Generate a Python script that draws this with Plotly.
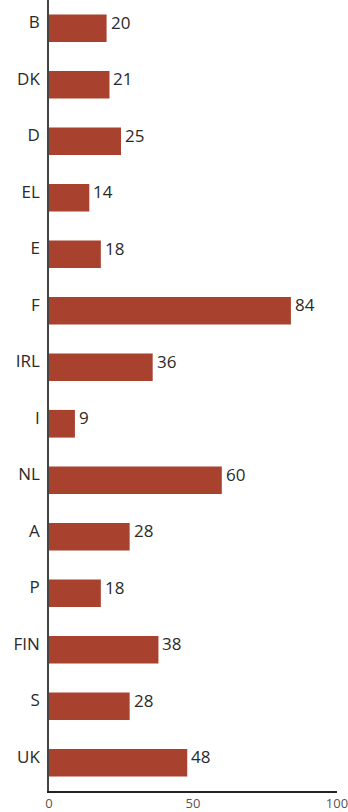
import plotly.graph_objects as go

categories = ["B", "DK", "D", "EL", "E", "F", "IRL", "I", "NL", "A", "P", "FIN", "S", "UK"]
values = [20, 21, 25, 14, 18, 84, 36, 9, 60, 28, 18, 38, 28, 48]
x_ticks = [0, 50, 100]

fig = go.Figure(go.Bar(
    y=categories,
    x=values,
    orientation="h",
    marker=dict(color="#A9412F", line=dict(width=0)),
    width=0.49,
))

for c, v in zip(categories, values):
    fig.add_annotation(
        x=v, y=c, text=str(v), showarrow=False,
        xanchor="left", yanchor="middle", xshift=2, yshift=6,
        font=dict(family="Open Sans", size=17, color="#2a2a2a", weight=500),
    )

fig.update_layout(
    width=348, height=812,
    margin=dict(l=49, r=10, t=0, b=18),
    paper_bgcolor="white", plot_bgcolor="white",
    showlegend=False,
    font=dict(family="Open Sans", color="#333"),
)
fig.update_xaxes(
    range=[0, 100], tickvals=x_ticks, showgrid=False, zeroline=False,
    showline=True, linecolor="#222", linewidth=1.5, ticks="",
    ticklabeloverflow="allow",
    tickfont=dict(size=13, color="#555"),
)
fig.update_yaxes(
    categoryorder="array", categoryarray=categories[::-1],
    showgrid=False, zeroline=False, showline=True, linecolor="#444", linewidth=1.5,
    ticks="", ticklabelstandoff=4, ticklabelshift=-6,
    tickfont=dict(size=17, color="#2a2a2a", weight=500),
)

fig.write_html("out.html")
